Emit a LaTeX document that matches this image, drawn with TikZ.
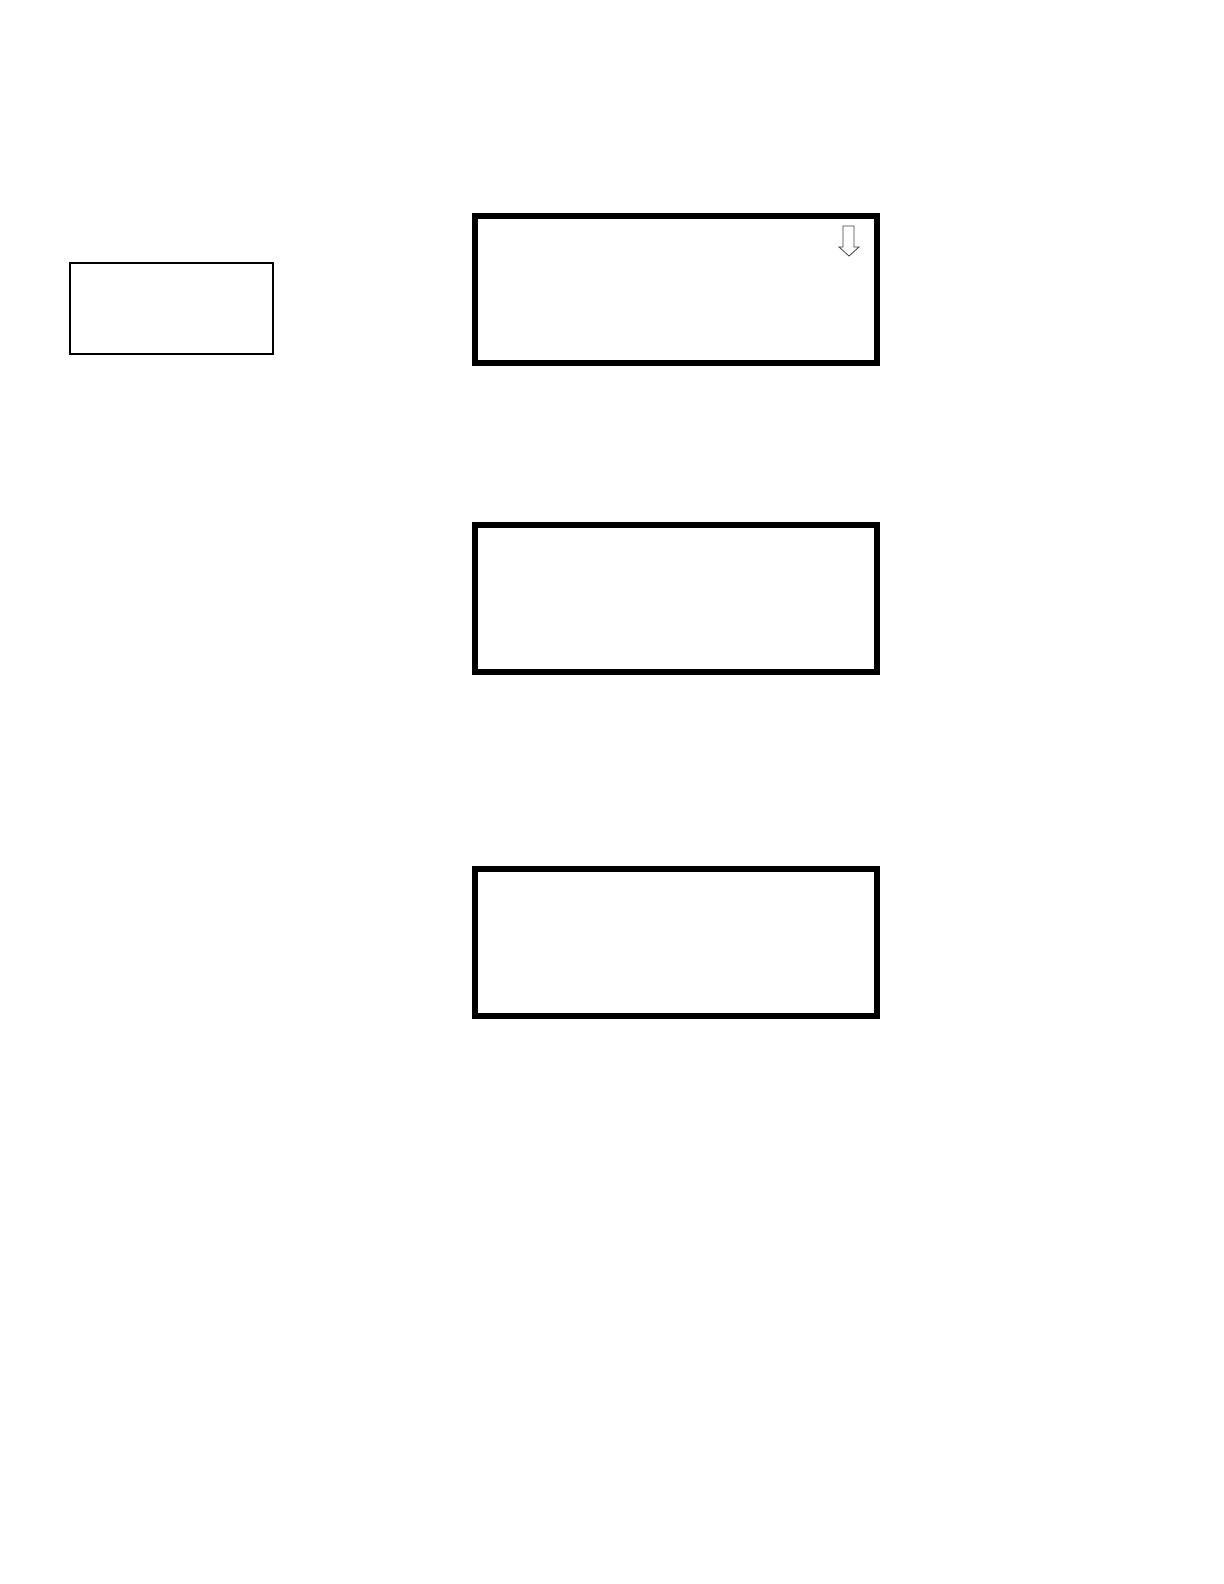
\documentclass[tikz,border=0pt]{standalone}
\usepackage{tikz}
\usetikzlibrary{positioning}

\tikzset{
	bigbox/.style={draw=black, line width=3pt, minimum width=200.75pt, minimum height=73.5pt, inner sep=0pt},
	smallbox/.style={draw=black, line width=1pt, minimum width=101.5pt, minimum height=45.5pt, inner sep=0pt}
}

\begin{document}
\begin{tikzpicture}[x=0.5pt, y=-0.5pt]

	\useasboundingbox (0,0) rectangle (1224,1584);
	\node[smallbox] (side) at (171.5,308.5) {};
	\node[bigbox] (top) at (675.75,289.5) {};
	\node[bigbox] (middle) at (675.75,598.25) {};
	\node[bigbox] (bottom) at (675.75,942.5) {};
	% hollow down arrow in the top box
	\draw[black!75, line width=0.4pt, fill=white](843,226)--(854,226)--(854,247)--(859,247)--(849,256)--(839,247)--(843,247)--cycle;

\end{tikzpicture}
\end{document}
